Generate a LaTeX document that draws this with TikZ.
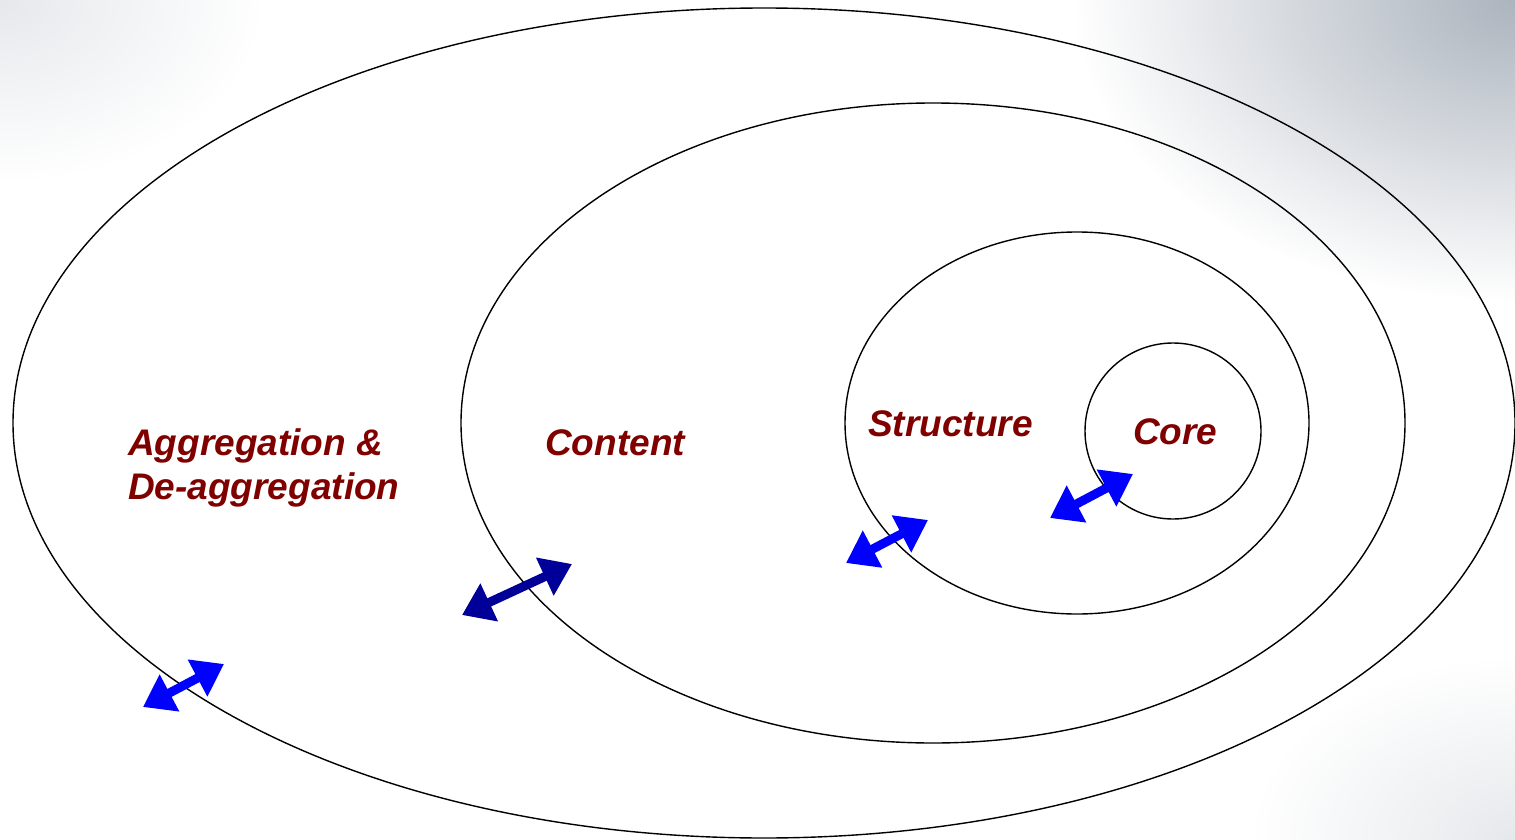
\documentclass[tikz,border=0pt]{standalone}
\usepackage{fontspec}
\setmainfont{Liberation Sans}
\usetikzlibrary{arrows.meta,fadings}
\definecolor{lbl}{RGB}{128,0,0}
\definecolor{brightblue}{RGB}{0,0,255}
\definecolor{darkblue}{RGB}{0,0,153}
\definecolor{bggray}{RGB}{172,180,190}
\tikzfading[name=cornerfade, inner color=transparent!0, outer color=transparent!100]
\tikzset{
  ring/.style={draw=black, line width=1.4pt},
  lab/.style={text=lbl, font=\fontsize{37}{44}\selectfont\bfseries\itshape, anchor=base west, inner sep=0pt},
  dbl/.style={line width=9pt, {Triangle[length=30pt,width=40pt]}-{Triangle[length=30pt,width=40pt]}}
}
\begin{document}
\begin{tikzpicture}[x=1pt,y=-1pt]
\useasboundingbox (0,0) rectangle (1515,840);
\fill[white] (0,0) rectangle (1515,840);
\fill[bggray, path fading=cornerfade] (1515,0) ellipse [x radius=440pt, y radius=300pt];
\fill[bggray!30, path fading=cornerfade] (0,0) ellipse [x radius=260pt, y radius=180pt];
\fill[bggray!30, path fading=cornerfade] (1515,840) ellipse [x radius=260pt, y radius=180pt];
% rings
\draw[ring] (764,423) ellipse [x radius=751pt, y radius=415pt];
\draw[ring] (933,423) ellipse [x radius=472pt, y radius=320pt];
\draw[ring] (1077,423) ellipse [x radius=232pt, y radius=191pt];
\draw[ring] (1173,431) circle [radius=88pt];
% labels
\node[lab] (agg) at (128,455) {Aggregation \&};
\node[lab] (deagg) at (128,499) {De-aggregation};
\node[lab] (content) at (545,455) {Content};
\node[lab] (structure) at (868,436) {Structure};
\node[lab] (core) at (1133,444) {Core};
% arrow ends
\coordinate (a1s) at (143,707); \coordinate (a1e) at (224,664);
\coordinate (a2s) at (462,615); \coordinate (a2e) at (572,564);
\coordinate (a3s) at (846,563); \coordinate (a3e) at (928,520);
\coordinate (a4s) at (1050,518); \coordinate (a4e) at (1133,474);
\draw[dbl, brightblue] (a1s) -- (a1e);
\draw[dbl, darkblue] (a2s) -- (a2e);
\draw[dbl, brightblue] (a3s) -- (a3e);
\draw[dbl, brightblue] (a4s) -- (a4e);
\end{tikzpicture}
\end{document}
